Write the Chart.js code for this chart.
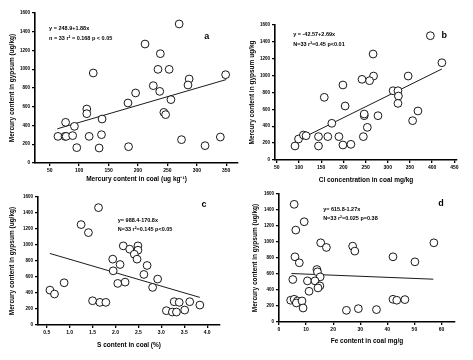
<!DOCTYPE html>
<html>
<head>
<meta charset="utf-8">
<script src="https://cdn.jsdelivr.net/npm/chart.js@4"></script>
<style>
  html, body { margin: 0; padding: 0; background: #fff; }
  #page { position: relative; width: 473px; height: 360px; overflow: hidden; }
  canvas { position: absolute; }
</style>
</head>
<body>
<div id="page">
  <canvas id="pa"></canvas><canvas id="pb"></canvas>
  <canvas id="pc"></canvas><canvas id="pd"></canvas>
</div>
<script>
// 四个散点面板:汞(石膏) vs 煤中 Hg / Cl / S / Fe
const Y_TICKS = [0, 200, 400, 600, 800, 1000, 1200, 1400, 1600];

const aX = [270, 212, 238, 234, 253, 124, 349, 287, 285, 226, 237, 196, 256, 183, 113, 113, 244, 247, 139, 77, 92, 64, 76, 78, 89, 117, 138, 340, 274, 96, 134, 184, 314];
const aY = [1483, 1269, 1166, 999, 999, 960, 942, 896, 832, 825, 764, 747, 676, 640, 576, 526, 540, 516, 469, 434, 391, 284, 284, 284, 292, 284, 302, 277, 249, 164, 160, 174, 185];
const aFitX = [63, 350], aFitY = [365, 890];
const aTicks = [50, 100, 150, 200, 250, 300, 350];

const bX = [396, 422, 267, 346, 268, 242, 259, 199, 157, 312, 323, 324, 323, 204, 368, 247, 278, 174, 356, 254, 247, 91, 99, 110, 116, 144, 165, 190, 245, 144, 199, 217];
const bY = [1473, 1153, 1256, 995, 995, 956, 940, 889, 743, 821, 821, 758, 671, 640, 581, 525, 525, 435, 466, 387, 545, 166, 249, 296, 288, 277, 277, 277, 277, 166, 178, 186];
const bFitX = [91, 422], bFitY = [217, 1079];
const bTicks = [50, 100, 150, 200, 250, 300, 350, 400, 450];

const cX = [1.63, 1.25, 1.41, 2.17, 2.49, 2.31, 2.49, 2.41, 1.94, 2.47, 2.10, 2.69, 1.95, 2.62, 2.92, 2.05, 2.21, 2.81, 0.88, 0.57, 0.67, 1.50, 1.66, 1.79, 3.28, 3.39, 3.62, 3.84, 3.11, 3.24, 3.33, 3.51];
const cY = [1467, 1255, 1155, 989, 989, 948, 935, 885, 823, 823, 756, 744, 677, 632, 574, 520, 536, 470, 528, 436, 387, 303, 283, 283, 291, 283, 291, 249, 179, 162, 162, 187];
const cFitX = [0.57, 3.84], cFitY = [894, 345];
const cTicks = [0.5, 1.0, 1.5, 2.0, 2.5, 3.0, 3.5, 4.0];

const dX = [5.6, 9.3, 6.2, 15.4, 17.5, 27.2, 28.0, 57.2, 5.9, 7.5, 42.1, 50.2, 14.0, 14.2, 15.2, 5.1, 10.5, 13.3, 15.1, 14.4, 11.1, 4.3, 5.6, 6.8, 6.4, 8.5, 8.9, 42.1, 43.5, 46.5, 24.9, 29.3, 36.0];
const dY = [1471, 1253, 1149, 990, 932, 948, 886, 990, 815, 740, 815, 752, 656, 627, 564, 531, 514, 514, 451, 426, 384, 272, 284, 263, 238, 263, 175, 284, 272, 280, 146, 167, 155];
const dFitX = [4.6, 57], dFitY = [606, 535];
const dTicks = [0, 10, 20, 30, 40, 50, 60];

const FONT = "'Liberation Sans', Arial, sans-serif";
const zip = (xs, ys) => xs.map((x, i) => ({ x, y: ys[i] }));

// 注释文字:按数据坐标放
const notesPlugin = {
  id: "notes",
  afterDatasetsDraw(chart, args, opts) {
    const { ctx, scales } = chart;
    ctx.save();
    ctx.fillStyle = "#000";
    ctx.textBaseline = "middle";
    for (const n of opts.items || []) {
      ctx.font = `bold ${n.size}px ${FONT}`;
      ctx.textAlign = n.align || "left";
      ctx.fillText(n.text, scales.x.getPixelForValue(n.x), scales.y.getPixelForValue(n.y));
    }
    ctx.restore();
  },
};

function panel(id, box, p) {
  const cv = document.getElementById(id);
  cv.width = box.w; cv.height = box.h;
  cv.style.left = box.l + "px"; cv.style.top = box.t + "px";
  const axisBase = {
    border: { display: true, color: "#000", width: 1.6 },
    grid: { display: true, drawOnChartArea: false, color: "#000", tickLength: 3, lineWidth: 1.3 },
  };
  new Chart(cv, {
    type: "scatter",
    data: {
      datasets: [
        { data: zip(p.xs, p.ys), pointStyle: "circle", pointRadius: 3.9,
          borderColor: "#000", backgroundColor: "#fff", borderWidth: 0.9 },
        { type: "line", data: zip(p.fitX, p.fitY), borderColor: "#000", borderWidth: 0.9,
          pointRadius: 0, fill: false },
      ],
    },
    options: {
      responsive: false, animation: false, events: [],
      layout: { padding: { top: 6, right: 6, left: 0, bottom: 0 } },
      plugins: { legend: { display: false }, tooltip: { enabled: false }, notes: { items: p.notes } },
      scales: {
        x: {
          ...axisBase, type: "linear", min: p.xMin, max: p.xMax,
          afterBuildTicks: (s) => { s.ticks = p.xTicks.map((v) => ({ value: v })); },
          afterFit: (s) => { s.height = box.xh; },
          ticks: { color: "#000", font: { family: FONT, size: 5, weight: "bold" }, padding: 2,
                   maxRotation: 0, autoSkip: false,
                   callback: (v) => p.xFmt ? p.xFmt(v) : String(v) },
          title: { display: true, text: p.xTitle, color: "#000", padding: 0,
                   font: { family: FONT, size: 6.5, weight: "bold" } },
        },
        y: {
          ...axisBase, min: 0, max: 1600,
          afterBuildTicks: (s) => { s.ticks = Y_TICKS.map((v) => ({ value: v })); },
          afterFit: (s) => { s.width = box.yw; },
          ticks: { color: "#000", font: { family: FONT, size: 4.5, weight: "bold" }, padding: 2,
                   callback: (v) => String(v) },
          title: { display: true, text: p.yTitle, color: "#000", padding: 0,
                   font: { family: FONT, size: 6.5, weight: "bold" } },
        },
      },
    },
    plugins: [notesPlugin],
  });
}

panel("pa", { l: 8, t: 7, w: 236, h: 176, yw: 27, xh: 20 }, {
  xs: aX, ys: aY, fitX: aFitX, fitY: aFitY, xMin: 25, xMax: 370, xTicks: aTicks,
  xTitle: "Mercury content in coal (ug kg⁻¹)", yTitle: "Mercury content in gypsum (ug/kg)",
  notes: [
    { text: "y = 248.9+1.88x", x: 49, y: 1430, size: 5.5 },
    { text: "n = 33 r² = 0.168 p < 0.05", x: 49, y: 1333, size: 5.5 },
    { text: "a", x: 317, y: 1344, size: 9, align: "center" },
  ],
});

panel("pb", { l: 248, t: 19, w: 215, h: 165, yw: 27, xh: 24 }, {
  xs: bX, ys: bY, fitX: bFitX, fitY: bFitY, xMin: 46, xMax: 456, xTicks: bTicks,
  xTitle: "Cl concentration in coal mg/kg", yTitle: "Mercury content in gypsum ug/kg",
  notes: [
    { text: "y = -42.57+2.69x", x: 87, y: 1493, size: 5.5 },
    { text: "N=33 r²=0.45 p<0.01", x: 87, y: 1375, size: 5.5 },
    { text: "b", x: 427, y: 1481, size: 9, align: "center" },
  ],
});

panel("pc", { l: 8, t: 191, w: 218, h: 158, yw: 30, xh: 24 }, {
  xs: cX, ys: cY, fitX: cFitX, fitY: cFitY, xMin: 0.31, xMax: 4.28, xTicks: cTicks,
  xFmt: (v) => v.toFixed(1),
  xTitle: "S content in coal (%)", yTitle: "Mercury content in gypsum (ug/kg)",
  notes: [
    { text: "y= 988.4-170.8x", x: 2.05, y: 1312, size: 5.5 },
    { text: "N=33 r²=0.145 p<0.05", x: 2.05, y: 1200, size: 5.5 },
    { text: "c", x: 3.93, y: 1512, size: 9, align: "center" },
  ],
});

panel("pd", { l: 251, t: 188, w: 210, h: 157, yw: 28, xh: 23 }, {
  xs: dX, ys: dY, fitX: dFitX, fitY: dFitY, xMin: 0, xMax: 65, xTicks: dTicks,
  xTitle: "Fe content in coal mg/g", yTitle: "Mercury content in gypsum (ug/kg)",
  notes: [
    { text: "y= 615.8-1.27x", x: 16.3, y: 1412, size: 5.5 },
    { text: "N=33 r²=0.025 p=0.38", x: 16.3, y: 1300, size: 5.5 },
    { text: "d", x: 59.8, y: 1475, size: 9, align: "center" },
  ],
});
</script>
</body>
</html>
